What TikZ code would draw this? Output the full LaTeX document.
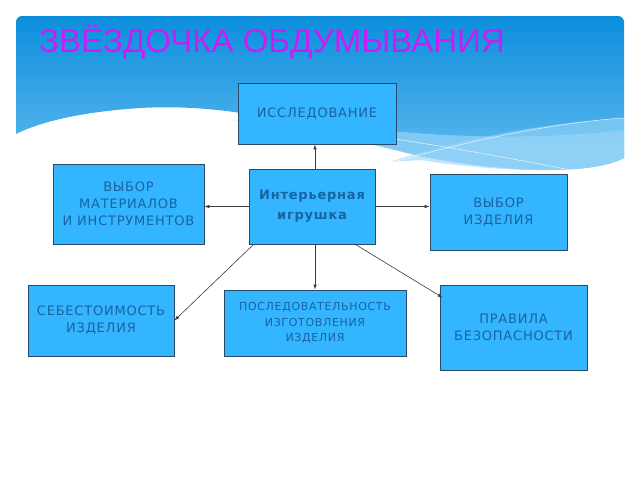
\documentclass[tikz,border=0pt]{standalone}
\usepackage{fontspec}
\setmainfont{DejaVu Sans}[LetterSpace=6]
\newfontfamily\titlefont{Liberation Sans}
\usetikzlibrary{arrows.meta,calc}
\definecolor{boxfill}{RGB}{51,181,255}
\definecolor{boxline}{RGB}{40,75,105}
\definecolor{boxtext}{RGB}{25,100,160}
\definecolor{titlecol}{RGB}{200,30,245}
\definecolor{skytop}{RGB}{12,142,220}
\definecolor{skybot}{RGB}{105,192,242}
\definecolor{wavecol}{RGB}{150,212,248}
\definecolor{arrowcol}{RGB}{60,60,60}
\tikzset{
  card/.style={draw=boxline, line width=0.8pt, fill=boxfill, text=boxtext,
    align=center, inner sep=2pt, font=\fontsize{13}{17}\selectfont},
  link/.style={draw=arrowcol, line width=0.6pt, -{Latex[length=5pt,width=3.5pt]}}
}
\begin{document}
\begin{tikzpicture}[x=1pt,y=-1pt]
\useasboundingbox (0,0) rectangle (640,480);
\fill[white] (0,0) rectangle (640,480);
% sky header
\begin{scope}
\clip (16,134) -- (16,10) -- (630,10) -- (624,158)
  .. controls (590,176) and (500,172) .. (420,156)
  .. controls (330,135) and (250,102) .. (140,108)
  .. controls (80,112) and (40,122) .. (16,134) -- cycle;
\shade[top color=skytop, bottom color=skybot, rounded corners=6pt]
  (16,16) rectangle (624,185);
\end{scope}
% light waves
\fill[wavecol, opacity=0.7]
  (230,120) .. controls (330,118) and (450,150) .. (624,130)
  -- (624,158) .. controls (590,176) and (500,172) .. (420,156)
  .. controls (350,140) and (300,126) .. (230,120) -- cycle;
\fill[wavecol, opacity=0.6]
  (390,162) .. controls (470,135) and (560,122) .. (624,118)
  -- (624,158) .. controls (590,176) and (500,172) .. (420,160) -- cycle;
\draw[white, line width=0.5pt, opacity=0.8]
  (200,118) .. controls (330,125) and (470,150) .. (580,172);
\draw[white, line width=0.5pt, opacity=0.8]
  (390,163) .. controls (470,140) and (560,122) .. (624,118);
% title
\node[anchor=west, text=titlecol, font=\titlefont\fontsize{33}{33}\selectfont, inner sep=0pt]
  (title) at (39,42) {ЗВЁЗДОЧКА ОБДУМЫВАНИЯ};
% boxes
\node[card, minimum width=158pt, minimum height=61pt] (issl) at (317,113.5) {ИССЛЕДОВАНИЕ};
\node[card, minimum width=126pt, minimum height=75pt, font=\bfseries\fontsize{13}{20}\selectfont] (main) at (312,206.5) {Интерьерная\\игрушка};
\node[card, minimum width=151pt, minimum height=80pt] (mat) at (128.5,204) {ВЫБОР\\МАТЕРИАЛОВ\\И ИНСТРУМЕНТОВ};
\node[card, minimum width=137pt, minimum height=76pt] (izd) at (498.5,212) {ВЫБОР\\ИЗДЕЛИЯ};
\node[card, minimum width=146pt, minimum height=71pt] (seb) at (101,320.5) {СЕБЕСТОИМОСТЬ\\ИЗДЕЛИЯ};
\node[card, minimum width=182pt, minimum height=66pt, font=\fontsize{11}{15.5}\selectfont] (posl) at (315,323) {ПОСЛЕДОВАТЕЛЬНОСТЬ\\ИЗГОТОВЛЕНИЯ\\ИЗДЕЛИЯ};
\node[card, minimum width=147pt, minimum height=85pt] (prav) at (513.5,327.5) {ПРАВИЛА\\БЕЗОПАСНОСТИ};
% connectors
\draw[link] ([xshift=3pt]main.north) -- ([xshift=3pt]main.north |- issl.south);
\draw[link] (main.west) -- (main.west -| mat.east);
\draw[link] (main.east) -- (main.east -| izd.west);
\draw[link] ([xshift=5pt]main.south west) -- (seb.east);
\draw[link] ([xshift=3pt]main.south) -- ([xshift=3pt]main.south |- posl.north);
\draw[link] ([xshift=-20pt]main.south east) -- ([xshift=3pt,yshift=-13pt]prav.north west);
\end{tikzpicture}
\end{document}
